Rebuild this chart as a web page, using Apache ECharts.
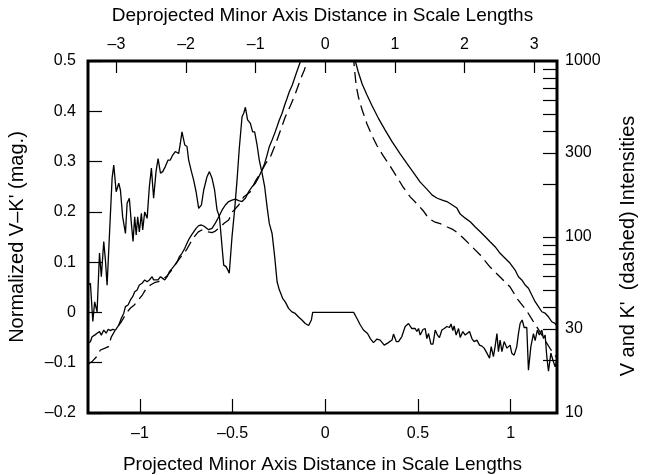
<!DOCTYPE html>
<html>
<head>
<meta charset="utf-8">
<script src="https://cdn.jsdelivr.net/npm/echarts@6/dist/echarts.min.js"></script>
<style>
html,body{margin:0;padding:0;background:#fff;}
#chart{width:645px;height:475px;}
</style>
</head>
<body>
<div id="chart"></div>
<script>
// ---- Data ----
// Projected minor-axis distance (scale lengths) vs normalized V-K' colour (mag.)
var colorData = [[-1.278,0.054],[-1.267,0.058],[-1.254,-0.018],[-1.244,0.021],[-1.231,0.001],[-1.218,0.118],[-1.208,0.071],[-1.195,0.141],[-1.186,0.104],[-1.177,0.054],[-1.150,0.267],[-1.141,0.293],[-1.128,0.240],[-1.114,0.257],[-1.105,0.243],[-1.093,0.190],[-1.078,0.157],[-1.069,0.217],[-1.057,0.227],[-1.046,0.177],[-1.037,0.141],[-1.028,0.190],[-1.020,0.154],[-1.012,0.190],[-1.003,0.160],[-0.992,0.197],[-0.985,0.164],[-0.974,0.200],[-0.961,0.187],[-0.949,0.250],[-0.938,0.287],[-0.926,0.227],[-0.913,0.280],[-0.902,0.306],[-0.889,0.277],[-0.877,0.280],[-0.863,0.290],[-0.848,0.303],[-0.836,0.303],[-0.823,0.313],[-0.809,0.320],[-0.791,0.316],[-0.782,0.336],[-0.773,0.359],[-0.758,0.333],[-0.746,0.330],[-0.737,0.303],[-0.722,0.280],[-0.710,0.263],[-0.697,0.240],[-0.683,0.207],[-0.668,0.214],[-0.656,0.243],[-0.638,0.270],[-0.625,0.280],[-0.611,0.267],[-0.597,0.243],[-0.584,0.204],[-0.571,0.190],[-0.557,0.131],[-0.548,0.094],[-0.535,0.091],[-0.525,0.084],[-0.518,0.078],[-0.503,0.151],[-0.489,0.204],[-0.476,0.263],[-0.464,0.326],[-0.449,0.389],[-0.440,0.396],[-0.431,0.408],[-0.419,0.383],[-0.404,0.376],[-0.392,0.359],[-0.381,0.359],[-0.368,0.333],[-0.356,0.303],[-0.341,0.277],[-0.327,0.250],[-0.314,0.210],[-0.302,0.177],[-0.287,0.157],[-0.273,0.111],[-0.260,0.061],[-0.248,0.045],[-0.230,0.028],[-0.216,0.021],[-0.198,0.008],[-0.180,0.001],[-0.162,-0.002],[-0.144,-0.009],[-0.126,-0.015],[-0.108,-0.022],[-0.090,-0.026],[-0.075,-0.015],[-0.068,0.000],[0.153,0.000],[0.171,-0.012],[0.189,-0.025],[0.206,-0.035],[0.228,-0.042],[0.243,-0.052],[0.260,-0.060],[0.279,-0.053],[0.296,-0.055],[0.318,-0.065],[0.336,-0.061],[0.360,-0.055],[0.368,-0.043],[0.383,-0.058],[0.395,-0.058],[0.413,-0.048],[0.431,-0.028],[0.449,-0.022],[0.467,-0.032],[0.485,-0.032],[0.494,-0.038],[0.503,-0.032],[0.512,-0.045],[0.527,-0.034],[0.539,-0.032],[0.548,-0.052],[0.557,-0.042],[0.570,-0.063],[0.581,-0.063],[0.593,-0.035],[0.605,-0.045],[0.616,-0.050],[0.629,-0.035],[0.642,-0.032],[0.656,-0.028],[0.670,-0.030],[0.678,-0.023],[0.688,-0.036],[0.695,-0.027],[0.706,-0.045],[0.719,-0.032],[0.728,-0.050],[0.742,-0.038],[0.755,-0.045],[0.764,-0.042],[0.778,-0.038],[0.791,-0.052],[0.803,-0.058],[0.818,-0.055],[0.832,-0.065],[0.845,-0.067],[0.857,-0.071],[0.872,-0.081],[0.886,-0.091],[0.895,-0.068],[0.907,-0.088],[0.916,-0.068],[0.926,-0.042],[0.934,-0.078],[0.943,-0.055],[0.953,-0.078],[0.965,-0.058],[0.980,-0.071],[0.997,-0.065],[1.006,-0.081],[1.019,-0.085],[1.033,-0.068],[1.042,-0.042],[1.051,-0.022],[1.062,-0.015],[1.073,-0.030],[1.087,-0.030],[1.096,-0.115],[1.109,-0.068],[1.123,-0.042],[1.132,-0.056],[1.144,-0.035],[1.155,-0.045],[1.168,-0.035],[1.177,-0.052],[1.186,-0.045],[1.195,-0.088],[1.204,-0.117],[1.217,-0.081],[1.228,-0.095],[1.240,-0.108],[1.249,-0.095]];

// V intensity (solid), left and right of the saturated centre
var vLeft = [[-1.278,25.0],[-1.267,25.4],[-1.258,27.1],[-1.244,27.7],[-1.231,28.4],[-1.218,29.0],[-1.208,27.7],[-1.195,29.6],[-1.182,28.4],[-1.171,29.9],[-1.159,29.4],[-1.147,29.9],[-1.132,29.6],[-1.123,29.9],[-1.114,31.6],[-1.100,34.5],[-1.087,36.9],[-1.078,40.2],[-1.064,41.1],[-1.051,43.9],[-1.039,45.8],[-1.028,48.9],[-1.015,50.0],[-1.003,53.4],[-0.988,54.6],[-0.974,57.0],[-0.961,55.7],[-0.949,57.0],[-0.934,59.5],[-0.926,57.0],[-0.916,58.2],[-0.902,57.0],[-0.889,59.5],[-0.877,58.2],[-0.866,57.0],[-0.853,59.5],[-0.841,63.5],[-0.826,66.4],[-0.812,69.3],[-0.799,72.4],[-0.787,77.3],[-0.773,80.8],[-0.758,86.2],[-0.746,92.1],[-0.733,98.3],[-0.722,102.6],[-0.710,107],[-0.697,112],[-0.683,116],[-0.668,117],[-0.656,115.5],[-0.647,113],[-0.629,110],[-0.611,112],[-0.593,120],[-0.575,130],[-0.557,142],[-0.539,152],[-0.521,159],[-0.503,162],[-0.485,164],[-0.467,161],[-0.449,159],[-0.431,166],[-0.413,181],[-0.395,193],[-0.377,202],[-0.360,218],[-0.341,240],[-0.327,262],[-0.314,292],[-0.302,326],[-0.287,356],[-0.273,388],[-0.260,424],[-0.248,462],[-0.233,505],[-0.219,562],[-0.206,614],[-0.194,669],[-0.178,731],[-0.156,855],[-0.135,987],[-0.124,1080]];
var vRight = [[0.159,1080],[0.162,1000],[0.178,866],[0.199,740],[0.225,641],[0.253,555],[0.286,474],[0.323,405],[0.361,347],[0.404,297],[0.442,260],[0.474,234],[0.512,205],[0.548,187],[0.577,173],[0.604,166],[0.631,162],[0.656,159],[0.685,152],[0.710,146],[0.728,135],[0.755,128],[0.782,122],[0.809,114],[0.836,107],[0.863,100.4],[0.889,94.0],[0.916,88.1],[0.943,80.8],[0.970,75.7],[0.997,70.9],[1.024,64.9],[1.042,59.5],[1.060,57.0],[1.078,53.4],[1.096,51.1],[1.114,46.8],[1.132,42.9],[1.150,40.2],[1.168,37.6],[1.186,36.9],[1.204,35.2],[1.222,33.0],[1.240,32.3],[1.251,30.9]];

// K' intensity (dashed)
var kLeft = [[-1.278,19.0],[-1.256,19.7],[-1.235,20.8],[-1.213,22.8],[-1.191,23.3],[-1.170,23.8],[-1.154,27.1],[-1.127,30.3],[-1.100,33.0],[-1.073,36.9],[-1.051,39.5],[-1.030,41.1],[-1.008,43.9],[-0.987,46.8],[-0.965,51.1],[-0.943,53.4],[-0.922,55.0],[-0.900,55.7],[-0.879,57.7],[-0.857,59.5],[-0.836,63.3],[-0.814,68.4],[-0.792,74.0],[-0.771,79.0],[-0.749,84.4],[-0.728,92.5],[-0.706,100.4],[-0.685,107],[-0.663,110],[-0.647,109],[-0.631,107],[-0.611,106],[-0.593,108],[-0.566,114],[-0.544,120],[-0.521,125],[-0.501,139],[-0.467,152],[-0.440,169],[-0.404,181],[-0.377,208],[-0.350,230],[-0.323,260],[-0.296,285],[-0.270,333],[-0.243,400],[-0.216,481],[-0.189,555],[-0.162,649],[-0.135,780],[-0.113,889],[-0.097,1000],[-0.086,1080]];
var kRight = [[0.151,1080],[0.154,1000],[0.159,866],[0.167,721],[0.180,616],[0.199,527],[0.225,439],[0.253,375],[0.280,329],[0.313,289],[0.350,253],[0.383,222],[0.420,192],[0.458,169],[0.496,154],[0.528,141],[0.557,128],[0.588,122],[0.620,119],[0.658,114],[0.690,110],[0.717,105],[0.744,98.7],[0.782,90.1],[0.836,79.0],[0.889,67.5],[0.943,59.3],[0.997,52.0],[1.040,43.9],[1.087,38.0],[1.121,33.3],[1.159,28.8],[1.191,25.3],[1.218,22.8],[1.251,20.5]];

// Tick values / labels
var bottomTicks = [-1, -0.5, 0, 0.5, 1];
var topTicks = [-3, -2, -1, 0, 1, 2, 3];
var rightLabels = [10, 30, 100, 300, 1000];
var rightMinorTicks = [20,30,40,50,60,70,80,90,100,200,300,400,500,600,700,800,900];

// Axis ranges
var xMin = -1.28, xMax = 1.25;
var deprojFactor = 2.6626; // deprojected / projected
var yMin = -0.2, yMax = 0.5;
var iMin = 10, iMax = 1000;

// ---- Build chart ----
var FONT = 'Liberation Sans, Arial, Helvetica, sans-serif';
function minus(s){ return String(s).replace('-', '\u2013'); }
function toLog(arr){ return arr.map(function(p){ return [p[0], Math.log10(p[1])]; }); }
var tickStyle = {show:true, inside:true, length:14, lineStyle:{color:'#000', width:1.2}};
var labelStyle = {color:'#000', fontSize:16, fontFamily:FONT};
var noLine = {show:false, onZero:false};

var chart = echarts.init(document.getElementById('chart'), null, {renderer:'canvas'});
chart.setOption({
  animation:false,
  backgroundColor:'#fff',
  grid:{left:88, top:61, width:469, height:352, show:true, borderColor:'#000', borderWidth:3, backgroundColor:'transparent'},
  xAxis:[
    {type:'value', position:'bottom', min:xMin, max:xMax,
     axisLine:noLine, splitLine:{show:false},
     axisTick:Object.assign({customValues:bottomTicks}, tickStyle),
     axisLabel:Object.assign({customValues:bottomTicks, margin:13, formatter:function(v){return minus(v);}}, labelStyle)},
    {type:'value', position:'top', min:xMin*deprojFactor, max:xMax*deprojFactor,
     axisLine:noLine, splitLine:{show:false},
     axisTick:Object.assign({customValues:topTicks}, tickStyle, {length:12}),
     axisLabel:Object.assign({customValues:topTicks, margin:8, formatter:function(v){return minus(v);}}, labelStyle)}
  ],
  yAxis:[
    {type:'value', position:'left', min:yMin, max:yMax, interval:0.1,
     axisLine:noLine, splitLine:{show:false},
     axisTick:tickStyle,
     axisLabel:Object.assign({margin:12, formatter:function(v){ return minus(Math.round(v*10)/10); }}, labelStyle)},
    {type:'value', position:'right', min:Math.log10(iMin), max:Math.log10(iMax),
     axisLine:noLine, splitLine:{show:false},
     axisTick:Object.assign({customValues:rightMinorTicks.map(Math.log10)}, tickStyle),
     axisLabel:Object.assign({customValues:rightLabels.map(Math.log10), margin:8, formatter:function(v){ return String(Math.round(Math.pow(10,v))); }}, labelStyle)}
  ],
  graphic:[
    {type:'text', left:'center', top:6, style:{text:'Deprojected Minor Axis Distance in Scale Lengths', fontSize:19, fontFamily:FONT, fill:'#000'}},
    {type:'text', left:'center', top:455, style:{text:'Projected Minor Axis Distance in Scale Lengths', fontSize:19, fontFamily:FONT, fill:'#000'}},
    {type:'text', x:17, y:237, rotation:Math.PI/2, style:{text:"Normalized V\u2013K' (mag.)", fontSize:20, fontFamily:FONT, fill:'#000', align:'center', verticalAlign:'middle'}},
    {type:'text', x:628, y:246, rotation:Math.PI/2, style:{text:"V and K'  (dashed) Intensities", fontSize:20, fontFamily:FONT, fill:'#000', align:'center', verticalAlign:'middle'}}
  ],
  series:[
    {type:'line', name:'V-K', xAxisIndex:0, yAxisIndex:0, data:colorData, symbol:'none', clip:true,
     lineStyle:{color:'#000', width:1.3}},
    {type:'line', name:'V left', xAxisIndex:0, yAxisIndex:1, data:toLog(vLeft), symbol:'none', clip:true,
     lineStyle:{color:'#000', width:1.3}},
    {type:'line', name:'V right', xAxisIndex:0, yAxisIndex:1, data:toLog(vRight), symbol:'none', clip:true,
     lineStyle:{color:'#000', width:1.3}},
    {type:'line', name:'K left', xAxisIndex:0, yAxisIndex:1, data:toLog(kLeft), symbol:'none', clip:true,
     lineStyle:{color:'#000', width:1.3, type:[11,6]}},
    {type:'line', name:'K right', xAxisIndex:0, yAxisIndex:1, data:toLog(kRight), symbol:'none', clip:true,
     lineStyle:{color:'#000', width:1.3, type:[11,6]}}
  ]
});
</script>
</body>
</html>
